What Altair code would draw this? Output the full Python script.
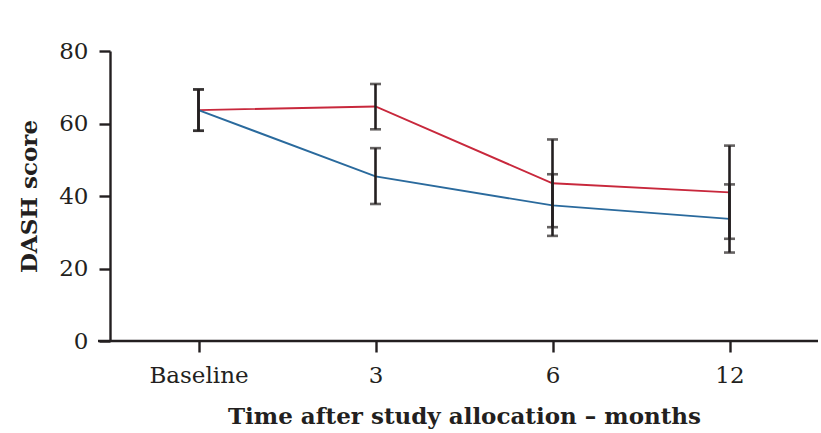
import altair as alt
import pandas as pd

timepoints = ["Baseline", "3", "6", "12"]
red_mean = [63.7, 64.7, 43.5, 41.0]
red_lo = [58.0, 58.4, 31.4, 28.2]
red_hi = [69.4, 70.9, 55.6, 53.9]
blue_mean = [63.7, 45.4, 37.4, 33.7]
blue_lo = [58.0, 37.8, 29.0, 24.4]
blue_hi = [69.4, 53.2, 46.0, 43.2]
groups = ["Group A", "Group B"]
colors = ["#c8283c", "#2a6a9d"]

rows = []
for g, m, lo, hi in [(groups[0], red_mean, red_lo, red_hi), (groups[1], blue_mean, blue_lo, blue_hi)]:
    for t, mv, l, h in zip(timepoints, m, lo, hi):
        rows.append({"time": t, "group": g, "mean": mv, "lo": l, "hi": h})
df = pd.DataFrame(rows)

W, H = 708, 290
FONT = "DejaVu Serif"
INK = "#231f20"

x = alt.X("time:N", sort=timepoints, scale=alt.Scale(type="point", padding=0.5),
          axis=alt.Axis(title="Time after study allocation \u2013 months", labelAngle=0,
                        domain=False, labelPadding=12, titlePadding=18))
y = alt.Y("mean:Q", scale=alt.Scale(domain=[0, 80]),
          axis=alt.Axis(title="DASH score", values=[0, 20, 40, 60, 80], grid=False,
                        labelPadding=11, titlePadding=17))

base = alt.Chart(df)
lines = base.mark_line(strokeWidth=1.9).encode(
    x=x, y=y,
    color=alt.Color("group:N", scale=alt.Scale(domain=groups, range=colors), legend=None),
    detail="group:N",
)
bars = base.mark_rule(color=INK, strokeWidth=2.6).encode(
    x=alt.X("time:N", sort=timepoints), y=alt.Y("lo:Q"), y2="hi:Q")
cap_lo = base.mark_tick(color=INK, thickness=2.6, size=11).encode(
    x=alt.X("time:N", sort=timepoints), y=alt.Y("lo:Q"))
cap_hi = base.mark_tick(color=INK, thickness=2.6, size=11).encode(
    x=alt.X("time:N", sort=timepoints), y=alt.Y("hi:Q"))
xline = alt.Chart(pd.DataFrame({"a": [0]})).mark_rule(color=INK, strokeWidth=2.4).encode(
    x=alt.value(-12), x2=alt.value(W), y=alt.value(H))

chart = alt.layer(lines, bars, cap_lo, cap_hi, xline).properties(
    width=W, height=H,
    autosize=alt.AutoSizeParams(type="none"),
    padding={"left": 110, "top": 51, "right": 3, "bottom": 92},
).configure_view(stroke=None).configure_axis(
    labelFont=FONT, titleFont=FONT, labelFontSize=23, titleFontSize=23,
    labelColor=INK, titleColor=INK, tickColor=INK, domainColor=INK,
    tickSize=11, tickWidth=2.4, domainWidth=2.4,
    titleFontWeight="bold",
)

chart.save("out.html", embed_options={"renderer": "svg", "actions": False})
